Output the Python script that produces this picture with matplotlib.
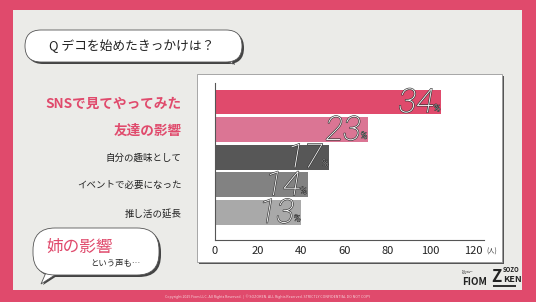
import matplotlib
matplotlib.use("Agg")
import matplotlib.pyplot as plt
import matplotlib.patheffects as pe
from matplotlib.patches import Rectangle, FancyBboxPatch, Polygon

plt.rcParams['font.family'] = ['Noto Sans CJK JP', 'DejaVu Sans']

# data
reasons = ["SNSで見てやってみた", "友達の影響", "自分の趣味として", "イベントで必要になった", "推し活の延長"]
counts = [105, 71, 53, 43, 40]
percents = [34, 23, 17, 14, 13]
xticks = [0, 20, 40, 60, 80, 100, 120]

PINK = '#e04a6c'
bar_colors = [PINK, '#db7594', '#575757', '#828282', '#a9a9a9']
label_colors = [PINK, PINK, '#222222', '#222222', '#222222']
label_sizes = [9.8, 9.8, 6.8, 6.8, 6.8]
label_weights = ['bold', 'bold', 'normal', 'normal', 'normal']

W, H = 536, 302
fig = plt.figure(figsize=(W / 100, H / 100), dpi=100, facecolor=PINK)

# background layer in pixel coordinates
bg = fig.add_axes([0, 0, 1, 1], zorder=0)
bg.set_xlim(0, W)
bg.set_ylim(H, 0)
bg.axis('off')

bg.add_patch(Rectangle((13, 10), 509, 280, color='#ebebe8', lw=0))

# white chart card with shadow
bg.add_patch(Rectangle((199, 76), 305, 188, color='#555555', lw=0))
bg.add_patch(Rectangle((197, 74), 305, 188, facecolor='white', edgecolor='#9a9a9a', lw=0.6))

# speech bubbles
def bubble(x, y, w, h, r, tail):
    sh = FancyBboxPatch((x + 2, y + 2), w, h, boxstyle=f"round,pad=0,rounding_size={r}",
                        facecolor='#444444', edgecolor='none')
    bg.add_patch(sh)
    bg.add_patch(Polygon([(p[0] + 2, p[1] + 1) for p in tail], closed=True,
                         facecolor='#444444', edgecolor='none'))
    bg.add_patch(Polygon(tail, closed=True, facecolor='white', edgecolor='#555555', lw=0.6))
    bg.add_patch(FancyBboxPatch((x, y), w, h, boxstyle=f"round,pad=0,rounding_size={r}",
                                facecolor='white', edgecolor='#555555', lw=0.6))

bubble(25, 30, 217, 32, 16, [(222, 58), (233, 64), (230, 55)])
bg.text(132, 46.5, "Q デコを始めたきっかけは？", ha='center', va='center', fontsize=9.2, color='#222222')

bubble(33, 228, 126, 47, 22, [(48, 268), (41, 284), (58, 273)])
bg.text(80, 247, "姉の影響", ha='center', va='center', fontsize=12, color=PINK)
bg.text(115, 263, "という声も…", ha='center', va='center', fontsize=6, color='#222222')

# logos
bg.text(462, 272, "Fun\nInnovation\nOriented\nMind", ha='left', va='center', fontsize=1.6,
        color='#333333', linespacing=1.1)
bg.text(462, 282, "FIOM", ha='left', va='center', fontsize=7, fontweight='bold', color='#222222')
bg.text(496, 277, "Z", ha='center', va='center', fontsize=12, fontweight='bold',
        style='italic', color='#222222')
bg.text(503, 270, "SOZO", ha='left', va='center', fontsize=4.3, fontweight='bold', color='#222222')
bg.text(503, 280, "KEN", ha='left', va='center', fontsize=6.5, fontweight='bold', color='#222222')
bg.add_patch(Rectangle((493, 285), 23, 2, color='#333333', lw=0))

# footer
bg.text(268, 296.5, "Copyright 2025 Fiom LLC. All Rights Reserved.  |  © SOZOKEN. ALL Rights Reserved. "
        "STRICTLY CONFIDENTIAL DO NOT COPY", ha='center', va='center', fontsize=2.6, color='#f6d4dc')

# chart axes
ax_l, ax_r, ax_t, ax_b = 215, 484, 83, 240
ax = fig.add_axes([ax_l / W, 1 - ax_b / H, (ax_r - ax_l) / W, (ax_b - ax_t) / H], zorder=1)
ax.patch.set_alpha(0)

ypos = list(range(len(reasons)))
ax.barh(ypos, counts, height=0.9, color=bar_colors, edgecolor='none')
ax.set_xlim(0, 125)
ax.set_ylim(len(reasons), -0.69)

for s in ['top', 'right']:
    ax.spines[s].set_visible(False)
for s in ['left', 'bottom']:
    ax.spines[s].set_color('#555555')
    ax.spines[s].set_linewidth(0.8)

ax.set_xticks(xticks)
ax.set_xticklabels([str(t) for t in xticks], fontsize=8, color='#222222')
ax.tick_params(axis='x', length=0, pad=4)
ax.text(126, len(reasons) + 0.42, "(人)", fontsize=4.5, color='#333333', ha='left', va='center')

ax.set_yticks(ypos)
ax.set_yticklabels(reasons)
ax.tick_params(axis='y', length=0, pad=24)
for lbl, c, s, w in zip(ax.get_yticklabels(), label_colors, label_sizes, label_weights):
    lbl.set_color(c)
    lbl.set_fontsize(s)
    lbl.set_fontweight(w)

outline = [pe.Stroke(linewidth=0.9, foreground='#333333'), pe.Normal()]
for y, v, p in zip(ypos, counts, percents):
    ax.text(v - 3.2, y - 0.08, str(p), ha='right', va='center_baseline', fontsize=24,
            family=['Roboto', 'DejaVu Sans'], fontweight=100, style='italic',
            color='white', path_effects=outline)
    ax.text(v - 0.2, y + 0.22, "%", ha='right', va='center', fontsize=7,
            family=['Roboto', 'DejaVu Sans'], fontweight=100, style='italic',
            color='white', path_effects=[pe.Stroke(linewidth=0.7, foreground='#333333'), pe.Normal()])

fig.savefig("out.png", dpi=100, facecolor=PINK)
